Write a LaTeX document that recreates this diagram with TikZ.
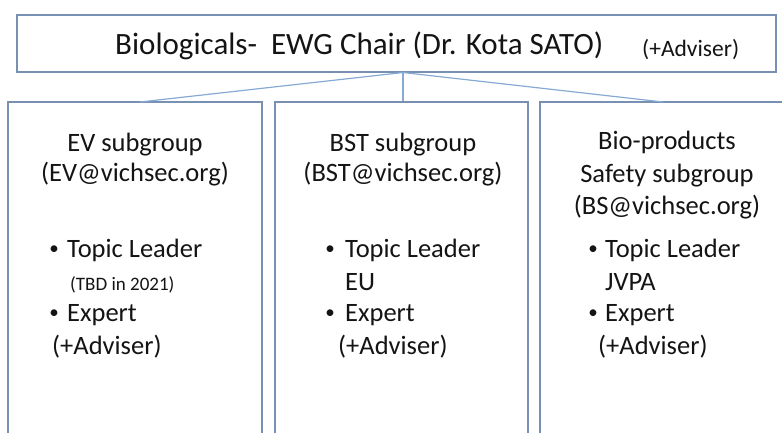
\documentclass[tikz,border=0pt]{standalone}
\usepackage{fontspec}
\setmainfont{Carlito}
\definecolor{boxline}{RGB}{120,145,178}
\definecolor{conn}{RGB}{135,170,210}
\definecolor{txt}{RGB}{20,20,20}
\tikzset{
  x=1pt, y=-1pt,
  boxstyle/.style={draw=boxline, line width=1.3pt, fill=white, inner sep=0pt},
  conline/.style={draw=conn, line width=1.2pt},
  titletext/.style={anchor=base west, inner sep=0pt, text=txt, font=\fontsize{31}{36}\selectfont},
  smalltitle/.style={anchor=base west, inner sep=0pt, text=txt, font=\fontsize{23.5}{28}\selectfont},
  headtext/.style={anchor=base, inner sep=0pt, text=txt, font=\fontsize{26.5}{31}\selectfont},
  bodytext/.style={anchor=base west, inner sep=0pt, text=txt, font=\fontsize{26.5}{31}\selectfont},
  smallbody/.style={anchor=base west, inner sep=0pt, text=txt, font=\fontsize{19}{23}\selectfont},
  bulletmark/.style={anchor=base, inner sep=0pt, text=txt, font=\fontsize{19}{23}\selectfont},
}
\begin{document}
\begin{tikzpicture}
\useasboundingbox (0,0) rectangle (782,432);
\clip (0,0) rectangle (782,432);
\fill[white] (0,0) rectangle (782,432);

% top box
\node[boxstyle, minimum width=759pt, minimum height=57pt] (top) at (396.5,43.5) {};
\node[titletext] (title) at (115,54) {Biologicals-\ \ EWG Chair (Dr. Kota SATO)};
\node[smalltitle] (adv) at (642,56) {(+Adviser)};

% lower boxes
\node[boxstyle, minimum width=254pt, minimum height=340pt] (b1) at (135,272) {};
\node[boxstyle, minimum width=253pt, minimum height=340pt] (b2) at (401.5,272) {};
\node[boxstyle, minimum width=260pt, minimum height=340pt] (b3) at (670,272) {};

% connectors
\coordinate (j) at (403,72.5);
\coordinate (e1) at (140,102);
\coordinate (e3) at (663,102);
\draw[conline] (j) -- (j |- b2.north);
\draw[conline] (j) -- (e1);
\draw[conline] (j) -- (e3);

% box 1
\node[headtext] (h1a) at (135,151) {EV subgroup};
\node[headtext] (h1b) at (135,181) {(EV@vichsec.org)};
\node[bulletmark] (p1a) at (54,254) {•};
\node[bodytext] (t1a) at (67,257) {Topic Leader};
\node[smallbody] (t1b) at (70,290) {(TBD in 2021)};
\node[bulletmark] (p1b) at (54,318) {•};
\node[bodytext] (t1c) at (67,321) {Expert};
\node[bodytext] (t1d) at (52,354) {(+Adviser)};

% box 2
\node[headtext] (h2a) at (403,151) {BST subgroup};
\node[headtext] (h2b) at (403,181) {(BST@vichsec.org)};
\node[bulletmark] (p2a) at (330,254) {•};
\node[bodytext] (t2a) at (345,257) {Topic Leader};
\node[bodytext] (t2b) at (345,290) {EU};
\node[bulletmark] (p2b) at (330,318) {•};
\node[bodytext] (t2c) at (345,321) {Expert};
\node[bodytext] (t2d) at (338,354) {(+Adviser)};

% box 3
\node[headtext] (h3a) at (667,149) {Bio-products};
\node[headtext] (h3b) at (667,182) {Safety subgroup};
\node[headtext] (h3c) at (667,214) {(BS@vichsec.org)};
\node[bulletmark] (p3a) at (593,254) {•};
\node[bodytext] (t3a) at (605,257) {Topic Leader};
\node[bodytext] (t3b) at (605,290) {JVPA};
\node[bulletmark] (p3b) at (593,318) {•};
\node[bodytext] (t3c) at (605,321) {Expert};
\node[bodytext] (t3d) at (598,354) {(+Adviser)};
\end{tikzpicture}
\end{document}
